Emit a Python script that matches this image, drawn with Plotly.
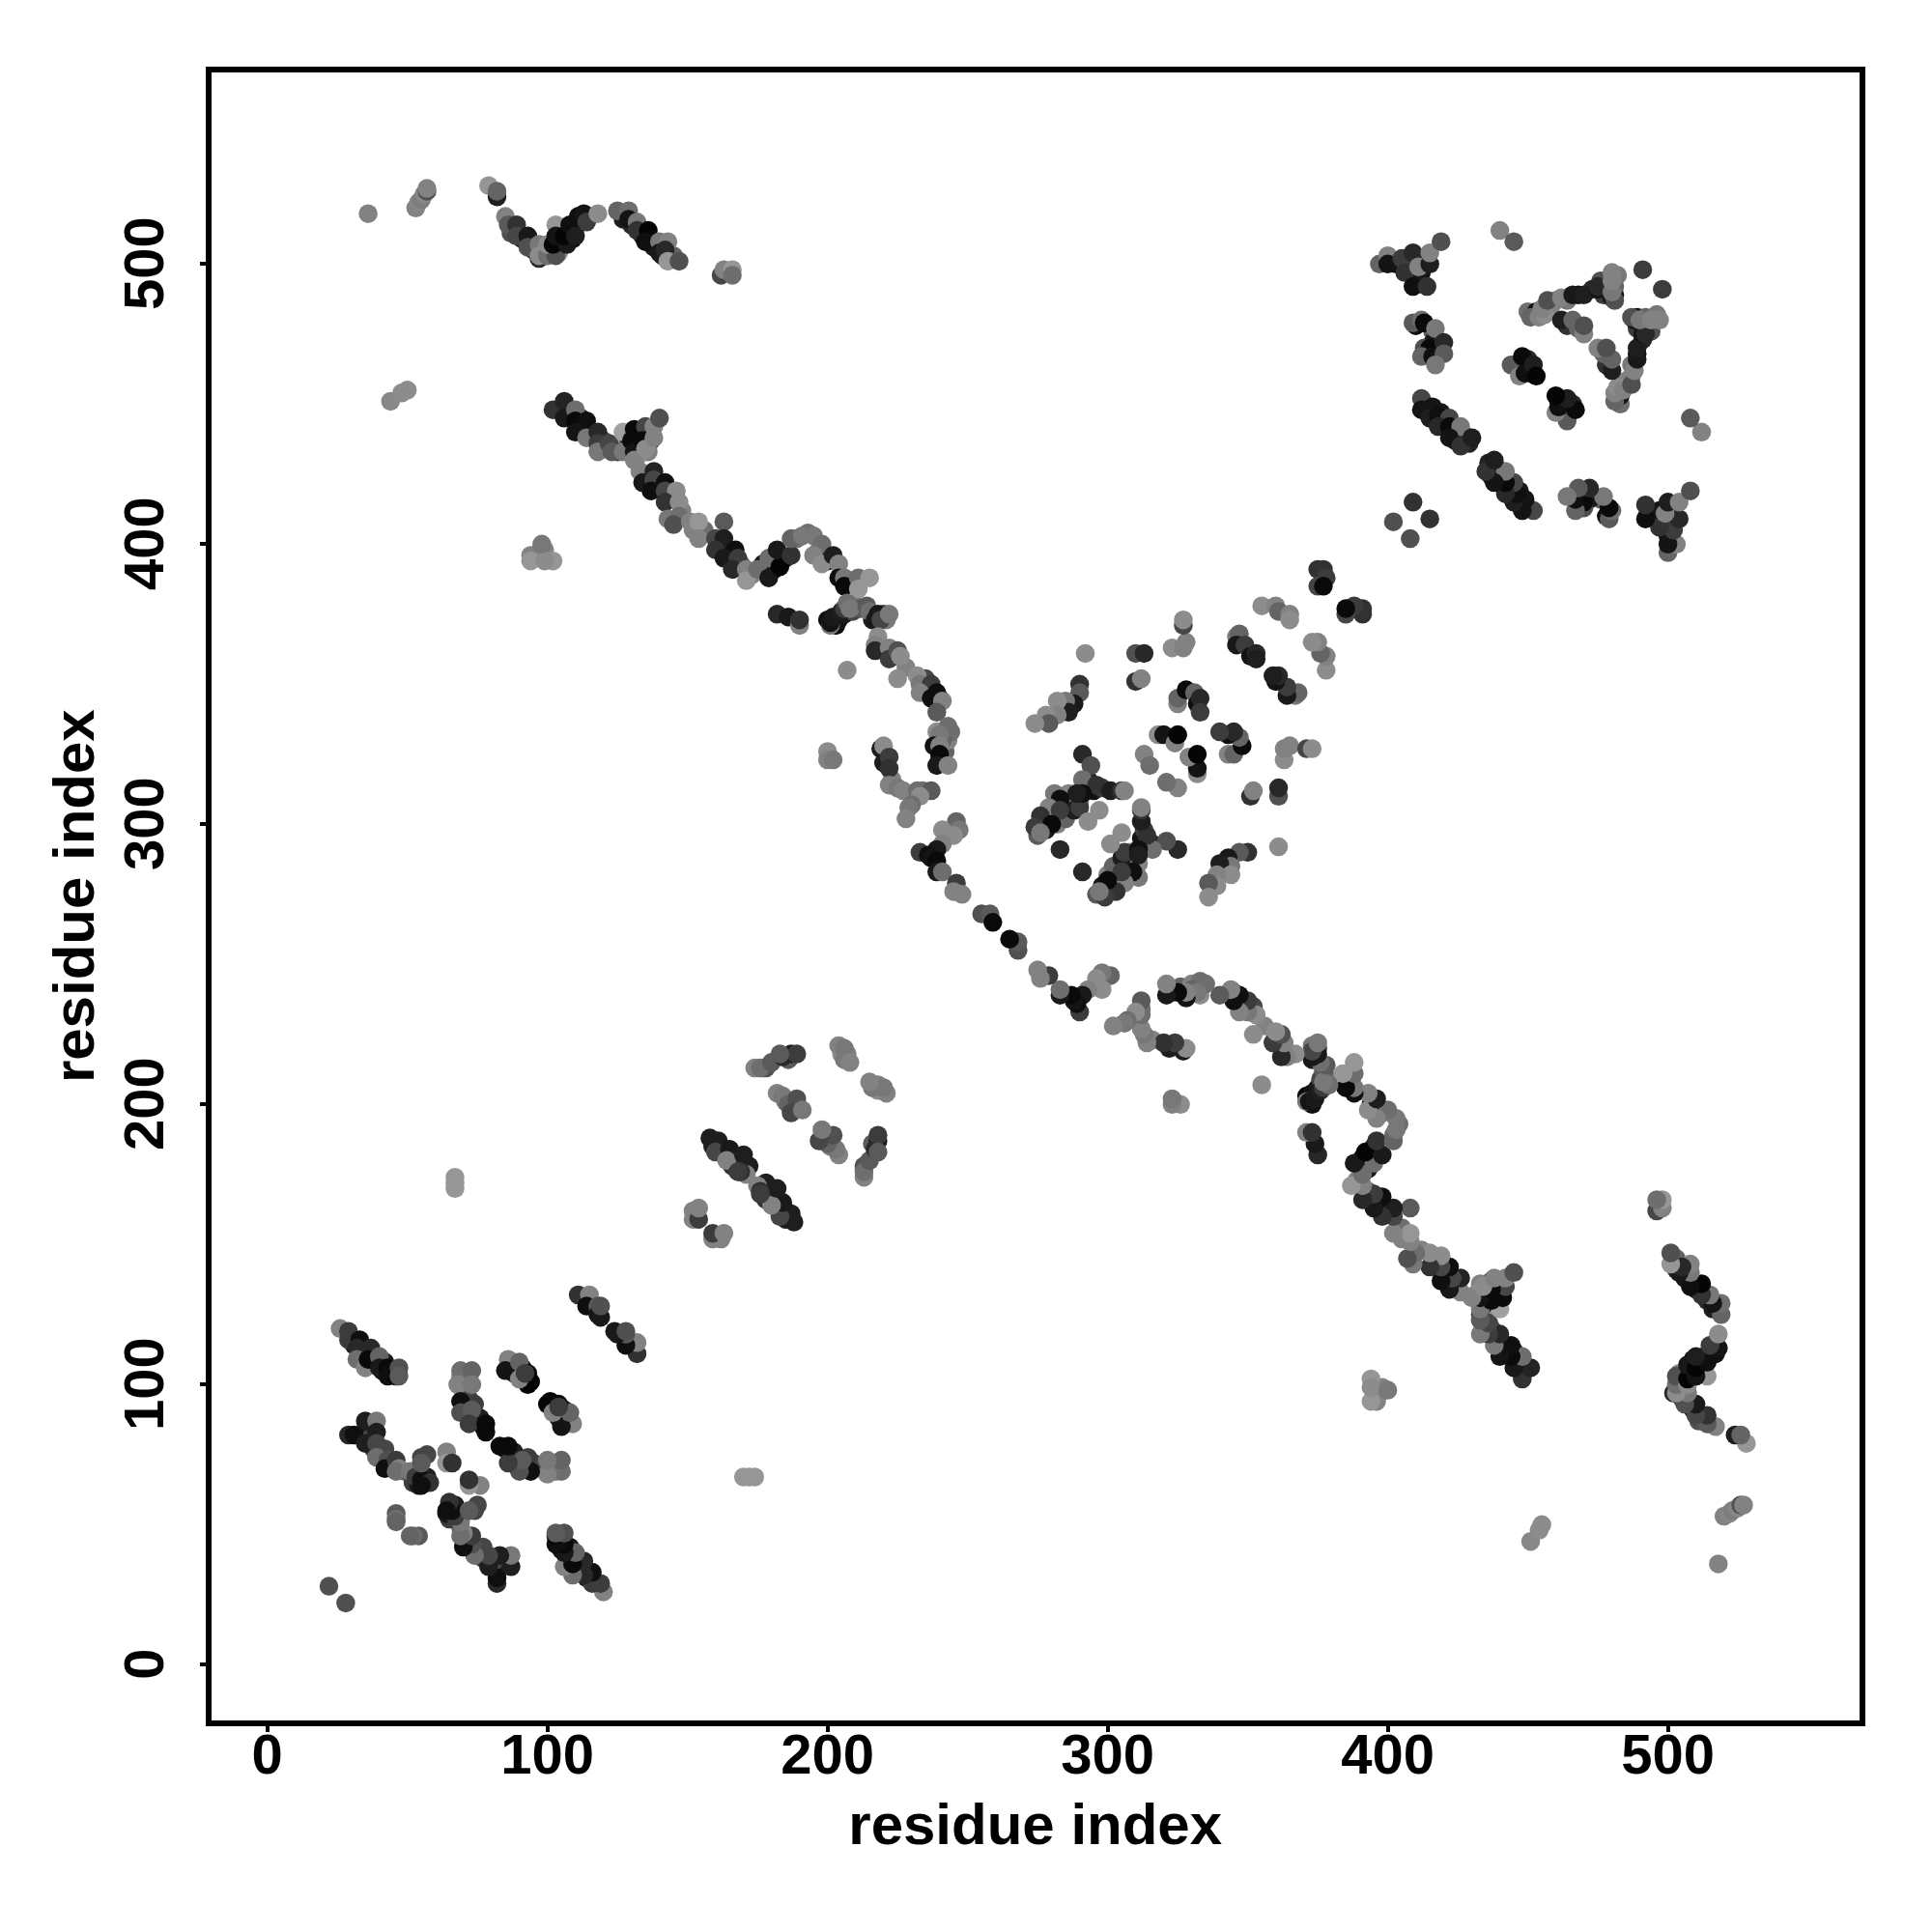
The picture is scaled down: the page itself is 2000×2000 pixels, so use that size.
import plotly.graph_objects as go

# Contacts are read from the upper triangle (j > i); the map is symmetric.
# The "*_under" lists are the contacts mostly hidden below later ones.
top_under_i = [87,91,95,99,101,104,105,106,109,110,112,115,127,130,134,138,141,145]
top_under_j = [511,509,505,505,504,504,507,513,509,513,516,517,516,514,510,506,503,503]
top_under_s = [80,30,60,130,60,140,10,150,10,20,25,90,30,40,15,25,40,100]

main_under_i = [200,203,204,206,209,210,212,216,216,220,221,128,129,132,133,136,137,136,132,240,241,242,243,241,244,108,112,116,120,125,129,140,144,148,152,156,162,165,169,173,177,181,185,189,193,197,200,224,228,235,236,238,240,223,231]
main_under_j = [373,371,373,375,376,378,377,375,373,375,373,436,434,436,439,440,437,433,431,323,327,326,330,332,333,447,445,440,437,433,438,421,417,412,405,405,399,397,393,389,393,391,395,402,404,398,394,360,356,352,348,347,345,316,310]
main_under_s = [15,10,20,25,70,110,90,40,30,60,120,150,20,15,20,10,60,130,140,20,10,100,130,120,110,25,30,60,80,70,15,25,60,130,130,110,25,20,110,130,25,10,30,110,110,120,15,80,130,70,130,10,20,130,130]

low_under_i = [31,34,35,38,41,42,44,45,46,33,36,37,38,41,44,49,52,54,56,57,69,70,71,70,72,74,76,77,87,91,92,93,88]
low_under_j = [114,111,113,108,105,108,104,105,105,82,84,81,77,75,72,69,65,64,66,67,103,101,103,98,95,93,88,85,107,106,102,100,104]
low_under_s = [20,20,100,15,15,25,10,50,40,30,25,70,60,100,30,100,60,25,25,30,130,110,140,120,70,60,30,20,70,5,10,5,40]

mid_under_i = [159,162,163,167,166,172,171,177,178,186,187,185,188,205,207]
mid_under_j = [185,185,182,181,178,178,175,213,213,216,218,201,199,218,218]
mid_under_s = [30,50,60,25,50,30,130,140,80,90,30,130,50,140,130]

core_under_i = [295,292,298,293,290,287,286,284,281,278,278,279,281,277,275,283,282,285,288,290]
core_under_j = [312,313,313,316,308,308,311,306,304,303,298,302,305,301,296,303,300,302,305,306]
core_under_s = [20,15,60,40,130,40,130,90,15,60,25,20,70,100,90,30,130,100,30,60]

high_under_i = [478,479,481,477,481,476,482,403,407,410,412,413,411,410,416,416,418,414,413,414,417,419,420,423,424,427,428,429,446,450,451,450,447,450,453,458,460,464,468,473,464,468]
high_under_j = [493,491,489,489,492,494,496,500,501,502,497,501,493,478,476,472,470,468,450,447,444,447,443,440,437,439,437,436,464,463,461,466,463,483,483,484,487,487,489,491,478,477]
high_under_s = [15,10,15,60,100,80,120,10,20,60,20,25,25,15,90,25,60,30,30,15,20,25,15,15,25,10,40,35,15,10,5,40,20,110,20,130,130,120,15,40,50,100]

top_i = [36,53,54,55,56,57,57,79,82,82,85,86,89,89,93,93,97,97,97,100,103,100,102,107,103,103,106,108,110,111,113,114,118,125,129,129,132,132,136,135,140,143,140,142,143,147,162,163,166,166,44,48,50]
top_j = [518,520,522,523,525,526,527,528,524,526,517,514,514,510,510,506,507,502,503,503,503,507,507,507,514,510,510,514,510,517,518,515,518,519,519,516,515,512,512,508,508,508,504,505,501,501,496,498,498,496,451,454,455]
top_s = [130,130,135,125,135,80,130,150,30,100,130,90,50,70,25,80,120,40,140,110,80,140,5,25,150,20,5,15,30,15,20,60,140,100,110,20,120,50,5,15,120,130,25,40,150,80,70,130,150,110,135,140,140]

main_i = [102,106,106,110,110,114,110,114,118,118,118,122,123,127,127,131,130,131,131,135,134,135,138,138,140,133,138,134,138,142,137,142,146,142,147,143,147,145,151,154,154,160,163,163,160,167,163,168,166,171,171,175,179,179,183,182,187,187,191,195,198,195,198,202,204,204,206,206,211,215,211,182,186,190,190,201,201,202,205,206,207,208,214,215,218,217,219,222,218,217,217,222,222,225,226,225,207,232,233,237,239,233,237,241,239,239,241,243,240,238,240,240,239,243,219,220,220,222,222,222,225,227,232,234,237,233,230,229,228,200,200,202,246,247,241,245,241,239,233,236,237,239,239,241,246,245,248,255,258,259]
main_j = [448,451,445,448,444,444,440,438,440,436,433,436,433,440,433,441,437,433,430,442,437,434,442,438,445,426,426,422,423,422,419,419,419,415,415,409,410,407,408,408,402,402,408,402,398,398,395,395,391,391,387,391,395,388,392,398,396,402,403,403,400,396,393,396,393,388,388,385,388,388,384,375,374,371,373,371,372,374,376,377,379,377,378,376,375,373,373,375,367,364,362,363,359,362,360,352,355,353,350,350,347,347,345,344,340,333,330,335,332,328,328,325,321,321,327,328,322,324,320,314,313,312,312,312,312,310,307,306,302,326,323,323,301,298,298,296,293,291,290,289,288,287,283,283,279,276,275,268,268,265]
main_s = [50,35,25,110,10,15,20,120,40,60,120,70,90,160,120,10,10,20,130,70,10,140,130,130,80,130,35,25,70,15,15,70,140,50,140,120,110,80,130,150,130,70,90,30,50,15,25,60,40,130,150,110,110,25,5,25,50,100,120,120,110,130,140,30,130,15,120,10,110,150,150,40,25,130,50,120,20,25,30,60,110,120,90,110,25,25,70,120,140,130,40,130,60,80,140,140,140,140,120,60,15,130,15,130,90,140,100,110,120,20,130,10,25,130,30,140,30,60,50,130,120,130,110,110,90,140,110,120,130,140,130,120,100,120,140,140,130,25,60,15,20,10,25,110,60,130,130,80,90,10]

off_i = [97,94,99,102,94,99,98,67,67,67]
off_j = [397,396,398,394,394,394,400,170,172,174]
off_s = [90,130,130,150,150,140,120,150,150,150]

low_i = [22,26,29,29,33,32,37,32,35,36,40,40,43,43,46,47,47,29,31,35,39,39,35,39,42,39,43,42,46,47,46,51,53,55,58,55,55,57,55,64,64,66,46,46,46,86,85,90,93,94,90,92,69,73,68,73,69,69,73,72,78,78,111,115,114,118,118,119,119]
low_j = [28,120,119,116,116,113,113,109,106,109,110,106,106,103,103,106,103,82,82,87,87,83,79,79,77,74,73,70,73,70,69,69,67,66,65,64,74,75,72,76,72,72,54,52,51,109,105,108,104,101,102,104,105,105,100,100,94,90,91,86,86,83,132,132,128,128,125,124,128]
low_s = [80,130,60,60,15,40,40,110,130,10,100,25,10,15,10,80,90,40,15,30,120,30,30,70,70,110,80,15,60,130,110,120,60,15,50,15,70,70,90,130,150,50,90,110,100,130,20,100,10,5,130,60,110,100,130,120,15,80,90,60,10,10,50,130,15,90,20,25,80]

mid_i = [152,152,154,154,158,161,160,165,164,170,169,168,174,176,180,184,189,183,182,184,186,189,187,191,204,206,206,208]
mid_j = [159,162,159,163,188,187,183,184,180,182,176,176,213,213,215,217,218,218,204,203,200,202,197,198,221,220,216,215]
mid_s = [130,130,60,130,30,30,70,25,130,30,50,60,130,110,90,40,60,90,130,120,100,80,70,120,130,120,120,130]

core_i = [292,290,290,288,285,286,282,282,278,279,274,310,313,310,312,323,327,328,327,327,355,360,361,365,365,346,347,346,349,351,353,353,375,377,378,375,377,325,325,328,331,332,333,333,318,320,324,325,313,315,291,294,291,296,301,305,306,291,289,281,283,279,283,276,280,274,276,283,293,297]
core_j = [361,350,347,343,344,340,344,339,339,336,336,361,361,351,352,363,363,365,371,373,378,378,376,375,373,367,368,364,364,360,361,359,391,391,388,385,385,343,345,348,347,343,345,340,332,332,329,332,325,321,325,321,316,314,312,312,312,311,311,311,309,306,305,303,300,299,297,291,301,305]
core_s = [140,50,90,25,120,30,140,130,140,90,140,80,40,50,130,140,130,130,70,140,140,130,100,130,140,120,100,25,60,20,40,30,50,50,60,70,10,130,100,10,100,15,40,60,140,20,130,5,130,110,40,80,110,50,30,50,130,15,30,120,15,130,60,50,10,60,120,40,140,140]

high_i = [397,400,400,405,406,409,411,415,415,419,409,414,409,412,413,417,413,415,420,412,416,420,417,412,412,416,415,418,422,418,422,426,422,426,430,402,409,444,447,448,449,452,453,451,454,456,455,457,462,466,470,475,475,480,481,480,480,480,462,466,470,470,491,440,445]
high_j = [500,503,500,502,497,504,499,500,504,508,492,492,479,480,479,477,470,470,472,467,467,468,464,452,448,449,445,446,445,442,442,442,438,435,438,408,415,464,460,467,461,464,460,481,481,482,484,487,488,489,489,491,492,488,487,490,494,497,480,480,475,478,498,512,508]
high_s = [100,130,20,60,50,40,130,30,130,80,15,50,90,110,10,120,80,10,40,100,15,90,120,70,20,20,30,15,70,40,10,120,20,50,30,80,50,90,130,10,15,30,5,100,130,140,130,80,130,25,30,20,40,20,80,120,130,130,30,100,130,80,60,130,90]

tick_values = [0, 100, 200, 300, 400, 500]
axis_label = "residue index"

groups = [(top_under_i, top_under_j, top_under_s), (main_under_i, main_under_j, main_under_s),
          (low_under_i, low_under_j, low_under_s), (mid_under_i, mid_under_j, mid_under_s),
          (core_under_i, core_under_j, core_under_s), (high_under_i, high_under_j, high_under_s),
          (top_i, top_j, top_s), (main_i, main_j, main_s), (off_i, off_j, off_s),
          (low_i, low_j, low_s), (mid_i, mid_j, mid_s), (core_i, core_j, core_s),
          (high_i, high_j, high_s)]
res_i, res_j, shade = [], [], []
for a, b, c in groups:
    assert len(a) == len(b) == len(c), (len(a), len(b), len(c))
    res_i += a; res_j += b; shade += c

FONT = "Liberation Sans"
OFFSET = 8  # the page body adds this many px on the left and top
fig = go.Figure(go.Scatter(
    x=res_i + res_j, y=res_j + res_i, mode="markers",
    marker=dict(size=19.5, color=shade + shade, cmin=0, cmax=255,
                colorscale=[[0, "black"], [1, "white"]], showscale=False,
                line=dict(width=0)),
    hoverinfo="skip"))

axis = dict(tickvals=tick_values, ticks="outside", ticklen=6, tickwidth=4, tickcolor="black",
            showgrid=False, zeroline=False,
            showline=True, mirror=True, linecolor="black", linewidth=6,
            tickfont=dict(family=FONT, size=58, color="black", weight="bold"),
            automargin=False)
fig.update_layout(
    width=2000, height=2000, autosize=False, showlegend=False,
    paper_bgcolor="white", plot_bgcolor="white",
    margin=dict(l=0, r=0, t=0, b=0),
    xaxis=dict(axis, range=[-20, 568.3],
               domain=[(218.7-OFFSET)/2000, (1924.7-OFFSET)/2000], ticklabelstandoff=-26,
               title=dict(text=f"<b>{axis_label}</b>", font=dict(family=FONT, size=60, color="black"), standoff=22)),
    yaxis=dict(axis, range=[-19.8, 568.5],
               domain=[(2000-1780.7+OFFSET)/2000, (2000-74.7+OFFSET)/2000], tickangle=-90,
               ticklabelstandoff=15, ticklabelshift=8,
               title=dict(text=f"<b>{axis_label}</b>", font=dict(family=FONT, size=60, color="black"), standoff=0)),
)
fig.write_html("out.html")
